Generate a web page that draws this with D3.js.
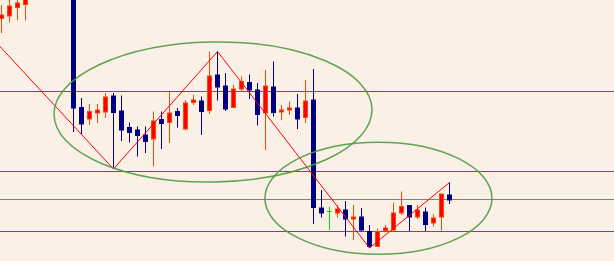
<!DOCTYPE html>
<html>
<head>
<meta charset="utf-8">
<script src="https://cdn.jsdelivr.net/npm/d3@7"></script>
<style>
  html, body { margin: 0; padding: 0; background: #faf0e6; overflow: hidden; }
  svg { display: block; }
</style>
</head>
<body>
<svg id="chart" width="614" height="261"></svg>
<script>
// ---- data (candle index, OHLC) ----
const idx   = [0,1,2,3,9,10,11,12,13,14,15,16,17,18,19,20,21,22,23,24,25,26,27,28,29,30,31,32,33,34,35,36,37,38,39,40,41,42,43,44,45,46,47,48,49,50,51,52,53,54,55,56];
const open  = [1.29815,1.2984,1.29925,1.29955,1.301,1.28925,1.2881,1.2887,1.2888,1.2904,1.2889,1.28725,1.287,1.2865,1.2861,1.28805,1.28775,1.28885,1.2871,1.28975,1.2899,1.28895,1.2925,1.2914,1.28925,1.2911,1.29175,1.291,1.2887,1.2913,1.2888,1.289,1.2892,1.28825,1.29,1.2792,1.27885,1.2787,1.279,1.2781,1.2783,1.27685,1.27535,1.27695,1.277,1.2787,1.27945,1.2783,1.2788,1.2777,1.2783,1.2805];
const high  = [1.2995,1.3002,1.3003,1.3006,1.3015,1.2902,1.2896,1.2896,1.2907,1.2907,1.29045,1.28775,1.28735,1.28735,1.28885,1.28885,1.2908,1.2892,1.29,1.2905,1.29035,1.29485,1.29485,1.2927,1.2915,1.29235,1.29255,1.2917,1.293,1.29385,1.2895,1.28985,1.2906,1.292,1.2931,1.281,1.27935,1.2795,1.2799,1.2795,1.2792,1.2775,1.27715,1.2775,1.27975,1.28085,1.2795,1.2795,1.27925,1.27855,1.2806,1.28175];
const low   = [1.2967,1.29775,1.298,1.29795,1.2868,1.2866,1.2875,1.2877,1.2882,1.2831,1.2859,1.28575,1.28435,1.2847,1.28335,1.2851,1.2857,1.28725,1.287,1.2895,1.2865,1.2886,1.28995,1.2889,1.2892,1.29085,1.2901,1.28745,1.285,1.28835,1.288,1.2885,1.2871,1.2877,1.2776,1.27825,1.277,1.27825,1.27635,1.276,1.27685,1.2752,1.27535,1.27685,1.2768,1.2785,1.2769,1.2781,1.2769,1.27735,1.27695,1.2796];
const close = [1.2985,1.2994,1.2997,1.3002,1.2892,1.2876,1.28885,1.289,1.2903,1.28875,1.287,1.28675,1.28645,1.28585,1.2879,1.28765,1.2887,1.28845,1.2897,1.29,1.28885,1.2924,1.2913,1.2891,1.2911,1.29185,1.291,1.28855,1.2914,1.28875,1.289,1.2892,1.2881,1.2899,1.27925,1.2787,1.27885,1.2791,1.2781,1.2783,1.277,1.27535,1.27685,1.2772,1.2787,1.27935,1.2783,1.279,1.27755,1.2782,1.2806,1.28];

// horizontal levels
const purpleLevels = [1.2909, 1.2829, 1.2769];
const grayLevels   = [1.2801];

// zigzag (index, price)
const zigIdx   = [-1, 14, 27, 46, 56];
const zigPrice = [1.29605, 1.2831, 1.29485, 1.2752, 1.28175];

// ellipses: centre index, centre price, radius in candles, radius in price, tilt (deg)
const ellCx  = [26.44, 47.12];
const ellCy  = [1.2888, 1.28017];
const ellRx  = [19.875, 14.19];
const ellRy  = [0.0070, 0.0056];
const ellRot = [-1, 0];

// ---- drawing ----
const W = 614, H = 261;
const svg = d3.select("#chart");
svg.append("rect").attr("width", W).attr("height", H).attr("fill", "#faf0e6");

const x = d3.scaleLinear().domain([0, 1]).range([1.5, 9.5]);   // 8px per candle
const y = d3.scaleLinear().domain([1.3, 1.2739]).range([0, H]);

const g = svg.append("g");

// horizontal lines
g.selectAll("line.pl").data(purpleLevels).join("line")
  .attr("x1", 0).attr("x2", W)
  .attr("y1", d => Math.round(y(d)) + 0.5).attr("y2", d => Math.round(y(d)) + 0.5)
  .attr("stroke", "#8a2be2").attr("stroke-width", 1);
g.selectAll("line.gl").data(grayLevels).join("line")
  .attr("x1", 0).attr("x2", W)
  .attr("y1", d => Math.round(y(d)) + 0.5).attr("y2", d => Math.round(y(d)) + 0.5)
  .attr("stroke", "#808080").attr("stroke-width", 1);

// candles
const candles = idx.map((k, i) => ({ k, o: open[i], h: high[i], l: low[i], c: close[i] }));
const kind = d => d.c > d.o ? "up" : (d.c < d.o ? "down" : "doji");
const wickCol = { up: "#ff4500", down: "#000080", doji: "#00e000" };
const bodyFill = { up: "#ff0000", down: "#000080", doji: "#00e000" };
const bodyStroke = { up: "#ff4500", down: "#000080", doji: "#00e000" };

const cg = g.append("g");
cg.selectAll("line.wick").data(candles).join("line")
  .attr("x1", d => x(d.k)).attr("x2", d => x(d.k))
  .attr("y1", d => y(d.h)).attr("y2", d => y(d.l))
  .attr("stroke", d => wickCol[kind(d)]).attr("stroke-width", 1);

cg.selectAll("rect.body").data(candles.filter(d => kind(d) !== "doji")).join("rect")
  .attr("x", d => x(d.k) - 2)
  .attr("width", 4)
  .attr("y", d => y(Math.max(d.o, d.c)))
  .attr("height", d => Math.max(1, y(Math.min(d.o, d.c)) - y(Math.max(d.o, d.c))))
  .attr("fill", d => bodyFill[kind(d)])
  .attr("stroke", d => bodyStroke[kind(d)]).attr("stroke-width", 1);

cg.selectAll("line.doji").data(candles.filter(d => kind(d) === "doji")).join("line")
  .attr("x1", d => x(d.k) - 2.5).attr("x2", d => x(d.k) + 2.5)
  .attr("y1", d => Math.round(y(d.o)) + 0.5).attr("y2", d => Math.round(y(d.o)) + 0.5)
  .attr("stroke", "#00e000").attr("stroke-width", 1);

// zigzag
const zz = zigIdx.map((k, i) => [x(k), y(zigPrice[i])]);
g.append("path").attr("d", d3.line()(zz))
  .attr("fill", "none").attr("stroke", "#ff0000").attr("stroke-width", 1);

// ellipses
ellCx.forEach((cx, i) => {
  const px = x(cx), py = y(ellCy[i]);
  const rx = x(ellRx[i]) - x(0);
  const ry = y(ellCy[i] - ellRy[i]) - py;
  g.append("ellipse")
    .attr("cx", px).attr("cy", py).attr("rx", rx).attr("ry", ry)
    .attr("transform", `rotate(${ellRot[i]} ${px} ${py})`)
    .attr("fill", "none").attr("stroke", "#4e9a45").attr("stroke-width", 1.5)
    .attr("opacity", 0.9);
});
</script>
</body>
</html>
